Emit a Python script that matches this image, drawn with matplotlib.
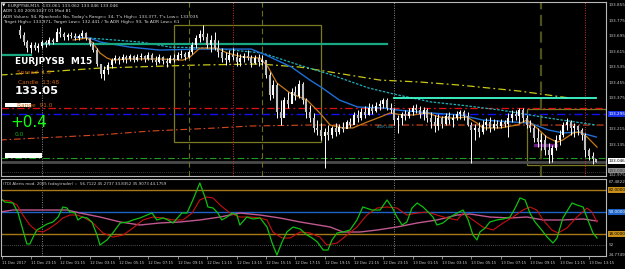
import numpy as np
import matplotlib
matplotlib.use("Agg")
import matplotlib.pyplot as plt
from matplotlib import transforms, font_manager
from matplotlib.patches import Rectangle

# ---------------- data ----------------
first_bar = 5
highs = [133.752, 133.716, 133.675, 133.664, 133.664, 133.659, 133.675, 133.675, 133.690, 133.685,
         133.737, 133.742, 133.716, 133.711, 133.716, 133.711, 133.706, 133.726, 133.716, 133.685,
         133.664, 133.633, 133.551, 133.540, 133.561, 133.582, 133.597, 133.592, 133.602, 133.597,
         133.602, 133.597, 133.602, 133.608, 133.597, 133.613, 133.608, 133.592, 133.602, 133.592,
         133.582, 133.597, 133.602, 133.613, 133.623, 133.613, 133.623, 133.664, 133.700, 133.726,
         133.752, 133.711, 133.700, 133.716, 133.675, 133.633, 133.613, 133.623, 133.633, 133.613,
         133.602, 133.608, 133.623, 133.597, 133.597, 133.602, 133.597, 133.571, 133.509, 133.468,
         133.453, 133.365, 133.381, 133.406, 133.427, 133.437, 133.468, 133.458, 133.375, 133.339,
         133.298, 133.262, 133.246, 133.221, 133.236, 133.231, 133.246, 133.241, 133.251, 133.262,
         133.272, 133.303, 133.313, 133.324, 133.334, 133.350, 133.344, 133.355, 133.365, 133.375,
         133.377, 133.350, 133.324, 133.288, 133.303, 133.313, 133.324, 133.339, 133.344, 133.334,
         133.329, 133.324, 133.303, 133.288, 133.293, 133.282, 133.298, 133.303, 133.293, 133.308,
         133.313, 133.313, 133.303, 133.251, 133.241, 133.251, 133.262, 133.272, 133.277, 133.267,
         133.262, 133.267, 133.262, 133.298, 133.313, 133.313, 133.324, 133.324, 133.288, 133.262,
         133.236, 133.221, 133.195, 133.185, 133.143, 133.133, 133.185, 133.210, 133.251, 133.272,
         133.262, 133.246, 133.236, 133.221, 133.195, 133.117, 133.096, 133.062]
lows = [133.685, 133.649, 133.613, 133.608, 133.623, 133.613, 133.633, 133.638, 133.649, 133.654,
        133.675, 133.690, 133.675, 133.675, 133.685, 133.675, 133.675, 133.685, 133.675, 133.644,
        133.613, 133.540, 133.479, 133.468, 133.499, 133.530, 133.556, 133.551, 133.561, 133.556,
        133.566, 133.561, 133.566, 133.571, 133.561, 133.571, 133.561, 133.546, 133.556, 133.551,
        133.535, 133.556, 133.561, 133.571, 133.582, 133.571, 133.582, 133.602, 133.633, 133.664,
        133.675, 133.633, 133.613, 133.623, 133.587, 133.561, 133.546, 133.561, 133.571, 133.540,
        133.540, 133.561, 133.571, 133.535, 133.551, 133.540, 133.546, 133.479, 133.365, 133.375,
        133.272, 133.236, 133.298, 133.324, 133.350, 133.365, 133.375, 133.344, 133.272, 133.251,
        133.200, 133.185, 133.159, 133.014, 133.159, 133.169, 133.179, 133.190, 133.200, 133.221,
        133.226, 133.241, 133.251, 133.262, 133.272, 133.288, 133.293, 133.303, 133.313, 133.324,
        133.313, 133.298, 133.236, 133.195, 133.236, 133.262, 133.272, 133.288, 133.298, 133.272,
        133.262, 133.251, 133.221, 133.200, 133.210, 133.221, 133.236, 133.241, 133.226, 133.262,
        133.267, 133.262, 133.231, 133.040, 133.159, 133.174, 133.190, 133.210, 133.200, 133.210,
        133.221, 133.221, 133.226, 133.174, 133.251, 133.262, 133.246, 133.251, 133.221, 133.200,
        133.148, 133.122, 133.107, 133.081, 133.040, 133.045, 133.107, 133.133, 133.174, 133.210,
        133.185, 133.174, 133.185, 133.159, 133.071, 133.055, 133.035, 133.046]
opens = [133.726, 133.700, 133.664, 133.633, 133.649, 133.633, 133.644, 133.664, 133.654, 133.675,
         133.664, 133.716, 133.706, 133.690, 133.700, 133.695, 133.685, 133.695, 133.711, 133.685,
         133.654, 133.623, 133.551, 133.499, 133.520, 133.546, 133.571, 133.582, 133.571, 133.587,
         133.577, 133.592, 133.571, 133.587, 133.592, 133.577, 133.597, 133.571, 133.561, 133.587,
         133.566, 133.556, 133.582, 133.571, 133.597, 133.602, 133.587, 133.613, 133.649, 133.685,
         133.706, 133.690, 133.649, 133.675, 133.633, 133.613, 133.582, 133.571, 133.597, 133.587,
         133.561, 133.582, 133.592, 133.582, 133.556, 133.582, 133.561, 133.571, 133.494, 133.391,
         133.442, 133.303, 133.272, 133.365, 133.344, 133.406, 133.386, 133.448, 133.365, 133.303,
         133.272, 133.221, 133.210, 133.179, 133.200, 133.185, 133.221, 133.200, 133.226, 133.215,
         133.251, 133.236, 133.288, 133.272, 133.303, 133.288, 133.324, 133.308, 133.334, 133.344,
         133.365, 133.324, 133.313, 133.262, 133.272, 133.293, 133.282, 133.303, 133.324, 133.313,
         133.293, 133.313, 133.272, 133.251, 133.231, 133.272, 133.241, 133.282, 133.262, 133.272,
         133.293, 133.303, 133.282, 133.236, 133.210, 133.221, 133.200, 133.236, 133.251, 133.221,
         133.241, 133.231, 133.251, 133.241, 133.272, 133.293, 133.282, 133.313, 133.272, 133.236,
         133.221, 133.169, 133.148, 133.159, 133.107, 133.081, 133.117, 133.159, 133.185, 133.236,
         133.251, 133.221, 133.231, 133.210, 133.185, 133.107, 133.076, 133.061]
closes = [133.700, 133.664, 133.633, 133.649, 133.633, 133.644, 133.664, 133.654, 133.675, 133.664,
          133.716, 133.706, 133.690, 133.700, 133.695, 133.685, 133.695, 133.711, 133.685, 133.654,
          133.623, 133.551, 133.499, 133.520, 133.546, 133.571, 133.582, 133.571, 133.587, 133.577,
          133.592, 133.571, 133.587, 133.592, 133.577, 133.597, 133.571, 133.561, 133.587, 133.566,
          133.556, 133.582, 133.571, 133.597, 133.602, 133.587, 133.613, 133.649, 133.685, 133.706,
          133.690, 133.649, 133.675, 133.633, 133.613, 133.582, 133.571, 133.597, 133.587, 133.561,
          133.582, 133.592, 133.582, 133.556, 133.582, 133.561, 133.571, 133.494, 133.391, 133.442,
          133.303, 133.272, 133.365, 133.344, 133.406, 133.386, 133.448, 133.365, 133.303, 133.272,
          133.221, 133.210, 133.179, 133.200, 133.185, 133.221, 133.200, 133.226, 133.215, 133.251,
          133.236, 133.288, 133.272, 133.303, 133.288, 133.324, 133.308, 133.334, 133.344, 133.365,
          133.324, 133.313, 133.262, 133.272, 133.293, 133.282, 133.303, 133.324, 133.313, 133.293,
          133.313, 133.272, 133.251, 133.231, 133.272, 133.241, 133.282, 133.262, 133.272, 133.293,
          133.303, 133.282, 133.236, 133.210, 133.221, 133.200, 133.236, 133.251, 133.221, 133.241,
          133.231, 133.251, 133.241, 133.272, 133.293, 133.282, 133.313, 133.272, 133.236, 133.221,
          133.169, 133.148, 133.159, 133.107, 133.081, 133.117, 133.159, 133.185, 133.236, 133.251,
          133.221, 133.231, 133.210, 133.185, 133.107, 133.076, 133.061, 133.046]

# moving averages (bar index, price)
ma_blue_x = [20, 24, 27, 35, 43, 54, 68, 72, 79, 84, 87, 92, 97, 104, 108, 117, 125, 131, 140, 144, 149, 153, 157, 162]
ma_blue_y = [133.690, 133.685, 133.664, 133.638, 133.623, 133.628, 133.628, 133.597, 133.535, 133.468, 133.432,
             133.365, 133.329, 133.324, 133.313, 133.298, 133.288, 133.262, 133.251, 133.246, 133.210, 133.195,
             133.200, 133.174]
ma_cyan_x = [24, 38, 46, 57, 71, 81, 90, 100, 108, 117, 125, 136, 149, 162]
ma_cyan_y = [133.685, 133.664, 133.638, 133.633, 133.608, 133.546, 133.494, 133.427, 133.391, 133.355, 133.339,
             133.313, 133.272, 133.236]
ma_orange_x = [19.5, 23.3, 24.9, 26.8, 28.7, 30.3, 34.2, 43.1, 49.4, 51.3, 54, 58.7, 61.4, 65.8, 70.4, 72.6, 75,
               78.6, 83.2, 86.7, 89.5, 93, 95.7, 99.5, 103.1, 105.8, 109.3, 112.1, 115.9, 119.4, 123, 126.8, 129.5,
               131.1, 135.7, 140.4, 143.1, 145.8, 148.5, 151.3, 152.9, 155.7, 157.6, 159.5, 162.2]
ma_orange_y = [133.675, 133.685, 133.659, 133.608, 133.582, 133.571, 133.577, 133.577, 133.571, 133.587, 133.633,
               133.633, 133.608, 133.587, 133.582, 133.535, 133.453, 133.401, 133.365, 133.298, 133.236, 133.221,
               133.221, 133.251, 133.277, 133.298, 133.288, 133.288, 133.298, 133.277, 133.272, 133.277, 133.246,
               133.221, 133.221, 133.236, 133.262, 133.221, 133.174, 133.148, 133.159, 133.195, 133.200, 133.174,
               133.122]
yellow_x = [-0.4, 26.8, 54, 70.4, 81.3, 103.1, 114, 124.9, 141.2, 154.9]
yellow_y = [133.494, 133.530, 133.546, 133.551, 133.535, 133.468, 133.458, 133.442, 133.411, 133.375]
pivot_x = [-0.4, 26.8, 40.4, 58.7, 67.7, 84, 165]
pivot_y = [133.159, 133.185, 133.205, 133.221, 133.231, 133.236, 133.236]

level_red = 133.323
level_blue = 133.293
level_green = 133.066
bid = 133.046
level_dot = 132.993
yday_high_left = 133.600
yday_high = 133.652
today_high = 133.377

# TDI indicator (bar index, value)
tdi_green_x = [-0.4, 0.9, 3.1, 4.5, 5.8, 6.9, 7.7, 8.6, 9.6, 11, 12.4, 14, 15.4, 16.7, 17.8, 18.6, 20, 20.8, 21.9,
               23.3, 24.6, 26, 26.8, 28.7, 30.3, 32.3, 34.4, 35.8, 37.7, 39.6, 41, 42.3, 44, 45.3, 46.7, 49.1, 50.5,
               52.1, 54, 55.4, 56.2, 57.6, 58.9, 60, 61.4, 62.8, 64.1, 64.9, 66.8, 68.5, 70.4, 72.3, 73.7, 75, 76.4,
               77.7, 79.4, 81.3, 83.2, 84.6, 86, 87.6, 88.9, 90, 91.4, 93, 94.9, 96.8, 98.4, 100.9, 103.1, 105,
               106.3, 107.7, 109.1, 110.4, 111.8, 113.2, 114.8, 116.2, 117.5, 118.6, 120.2, 122.2, 124.1, 125.7,
               127.1, 128.4, 129.5, 130.3, 131.7, 133, 134.9, 136.6, 138.5, 139.9, 141.2, 142.6, 143.9, 145.3,
               146.7, 148.6, 150.2, 151.3, 152.9, 155.4, 156.7, 158.4, 159.7, 161.1, 162.2]
tdi_green_y = [70.4, 64.5, 63.1, 48.5, 23.8, 3.5, 3.5, 13.6, 23.8, 28.2, 32.5, 35.5, 42.7, 57.3, 55.8, 50, 48.5,
               38.4, 42.7, 41.3, 35.5, 16.5, 2, 9.3, 19.5, 34, 35.5, 38.4, 41.3, 45.6, 48.5, 38.4, 41.3, 38.4, 34,
               48.5, 48.5, 67.5, 92.2, 71.8, 57.3, 55.8, 48.5, 38.4, 42.7, 48.5, 45.6, 31.1, 42.7, 39.8, 41.3, 28.2,
               4.9, -12.5, 6.4, 20.9, 28.2, 25.3, 16.5, 12.2, 6.4, -5.3, -5.3, 9.3, 19.5, 20.9, 23.8, 38.4, 57.3,
               52.9, 52.9, 67.5, 57.3, 42.7, 31.1, 35.5, 55.8, 63.1, 57.3, 50, 42.7, 31.1, 34, 42.7, 48.5, 52.9,
               38.4, 16.5, 9.3, 20.9, 26.7, 35.5, 38.4, 39.8, 42.7, 55.8, 70.4, 67.5, 48.5, 35.5, 26.7, 13.6, 4.9,
               12.2, 41.3, 63.1, 60.2, 57.3, 38.4, 19.5, 12.2]
tdi_red_x = [-0.4, 2.3, 4.2, 5.8, 7.7, 9.6, 11.3, 13.2, 15.1, 16.7, 18.6, 20.5, 22.2, 24.9, 27.6, 30.3, 33.1, 35.8,
             38.5, 41.2, 44, 46.7, 49.4, 51.9, 54, 55.9, 57.6, 59.5, 62.2, 64.9, 67.7, 70.4, 72.3, 73.9, 76.4, 78.6,
             81.3, 84, 86.7, 88.6, 91.4, 94.1, 96.8, 99.5, 102.3, 105, 107.7, 110.4, 113.2, 115.9, 118.6, 121.3,
             124.1, 125.7, 128.4, 131.1, 133.9, 136.6, 139.3, 142, 143.9, 145.8, 147.5, 149.9, 151.6, 154, 156.7,
             159.5, 160.8, 162.2]
tdi_red_y = [67.5, 66, 60.2, 45.6, 31.1, 22.4, 20.9, 26.7, 34, 41.3, 45.6, 45.6, 42.7, 34, 19.5, 13.6, 16.5, 26.7,
             38.4, 42.7, 41.3, 38.4, 38.4, 48.5, 67.5, 71.8, 70.4, 60.2, 48.5, 42.7, 42.7, 41.3, 38.4, 20.9, 12.2,
             12.2, 20.9, 19.5, 13.6, 2, 4.9, 16.5, 28.2, 45.6, 55.8, 57.3, 55.8, 45.6, 48.5, 50, 45.6, 41.3, 38.4,
             48.5, 38.4, 28.2, 23.8, 34, 42.7, 52.9, 57.3, 52.9, 38.4, 23.8, 19.5, 26.7, 42.7, 55.8, 50, 35.5]
tdi_base_x = [-0.4, 3.1, 17.8, 21.4, 26.8, 32.3, 37.7, 43.1, 48.6, 54, 59.5, 64.9, 70.4, 75.8, 81.3, 89.5, 93,
              97.6, 102.3, 107.7, 113.2, 118.6, 124.1, 127.6, 133, 138.5, 143.1, 147.5, 152.9, 158.4, 162.2]
tdi_base_y = [50, 52.9, 52.9, 48.5, 42.7, 35.5, 31.1, 34, 35.5, 38.4, 42.7, 48.5, 45.6, 41.3, 35.5, 28.2, 20.9,
              20.9, 23.8, 28.2, 34, 38.4, 45.6, 47.1, 42.7, 41.3, 42.7, 38.4, 38.4, 39.8, 36.9]
tdi_levels = [82.0, 50.0, 18.0]
tdi_dot = 2.0

time_labels = ["11 Dec 2017", "11 Dec 23:15", "12 Dec 01:15", "12 Dec 03:15", "12 Dec 05:15", "12 Dec 07:15",
               "12 Dec 09:15", "12 Dec 11:15", "12 Dec 13:15", "12 Dec 15:15", "12 Dec 17:15", "12 Dec 19:15",
               "12 Dec 21:15", "12 Dec 23:15", "13 Dec 01:15", "13 Dec 03:15", "13 Dec 05:15", "13 Dec 07:15",
               "13 Dec 09:15", "13 Dec 11:15", "13 Dec 13:15"]
time_label_bars = [0, 8, 16, 24, 32, 40, 48, 56, 64, 72, 80, 88, 96, 104, 112, 120, 128, 136, 144, 152, 160]
price_ticks = [133.855, 133.775, 133.695, 133.615, 133.535, 133.455, 133.375, 133.215, 133.135]
day_sep_bars = [11, 107]
olive_vbars = [51, 71]
olive_vbar_thick = 147
red_vbars = [63, 159]

# ---------------- fonts ----------------
_names = {f.name for f in font_manager.fontManager.ttflist}
if "Liberation Sans Narrow" in _names:
    NARROW, NS = "Liberation Sans Narrow", 1.0
else:
    NARROW, NS = "DejaVu Sans", 0.76

# ---------------- figure ----------------
W, H = 625, 269
fig = plt.figure(figsize=(W / 100, H / 100), dpi=100, facecolor="black")

def frac(x0, y0, x1, y1):
    return [x0 / W, 1 - y1 / H, (x1 - x0) / W, (y1 - y0) / H]

ax = fig.add_axes(frac(1, 2, 606, 176), facecolor="black")
axi = fig.add_axes(frac(1, 179, 606, 256), facecolor="black")
XL = (-0.16, 164.64)
for a in (ax, axi):
    a.set_xlim(*XL)
    for s in a.spines.values():
        s.set_color("#b8b8b8")
        s.set_linewidth(0.8)
    a.tick_params(left=False, right=False, labelleft=False, labelright=False)
ax.set_ylim(132.973, 133.871)
axi.set_ylim(-14, 98)
ax.set_xticks([])

ddot = (0, (6, 2.5, 1.5, 2.5))
idx = np.arange(first_bar, first_bar + len(closes))
o = np.array(opens); c = np.array(closes); hi = np.array(highs); lo = np.array(lows)

# horizontal levels / lines
ax.axhline(level_green, color="#1e9e1e", lw=0.8, ls=ddot)
ax.axhline(bid, color="#4a4a4a", lw=2.0)
ax.axhline(level_dot, color="#505050", lw=0.6, ls=(0, (1, 1.5)))
ax.plot(pivot_x, pivot_y, color="#d8481e", lw=0.8, ls=ddot)
ax.axhline(level_red, color="#e01010", lw=0.9, ls=ddot)
ax.axhline(level_blue, color="#1010f0", lw=1.0, ls=ddot)
ax.plot(yellow_x, yellow_y, color="#c8c818", lw=0.9, ls=ddot)

# vertical lines
for b in day_sep_bars:
    ax.axvline(b, color="#8a8a8a", lw=0.7, ls=(0, (1, 1.5)))
    axi.axvline(b, color="#8a8a8a", lw=0.7, ls=(0, (1, 1.5)))
for b in olive_vbars:
    ax.axvline(b, color="#6e6e18", lw=0.8, ls=(0, (5, 3)))
ax.axvline(olive_vbar_thick, color="#50501a", lw=1.6, ls=(0, (5, 2.5)))
for b in red_vbars:
    ax.axvline(b, color="#d03030", lw=0.7, ls=(0, (1, 1.5)))

# boxes
ax.add_patch(Rectangle((47, 133.150), 87 - 47, 133.752 - 133.150, fill=False, ec="#7a7a22", lw=0.9))
ax.add_patch(Rectangle((143, 133.030), 164.64 - 143, 133.318 - 133.030, fill=False, ec="#7a7a22", lw=0.9))

# moving averages
ax.plot(ma_cyan_x, ma_cyan_y, color="#1fb0b8", lw=0.9, ls=(0, (2, 1.2)))
ax.plot(ma_blue_x, ma_blue_y, color="#1e6fd8", lw=1.0)
ax.plot(ma_orange_x, ma_orange_y, color="#c87818", lw=0.9)

# high lines
ax.plot([-0.4, 8], [yday_high_left, yday_high_left], color="#18a882", lw=1.6)
ax.plot([11.3, 105], [yday_high, yday_high], color="#18a882", lw=1.6)
ax.plot([107, 162], [today_high, today_high], color="#40ffd0", lw=1.3)
ax.plot([145.3, 151], [133.133, 133.133], color="#6a2080", lw=2.4)

# bars
up = c >= o
ax.vlines(idx, lo, hi, color="white", lw=0.7)
ax.vlines(idx[up], o[up], c[up], color="white", lw=1.5)
ax.vlines(idx[~up], c[~up], o[~up], color="#c0c0c0", lw=1.5)

ax.text(104.5, 133.226, "ADR Low", color="#2a98b0", fontsize=3.4 * NS, family=NARROW, va="center", ha="center")

# right price labels
RF = dict(family=NARROW, fontsize=3.9 * NS, va="center", ha="left", clip_on=False)
bt = transforms.blended_transform_factory(ax.transAxes, ax.transData)
for p in price_ticks:
    ax.text(1.004, p, f"{p:.3f}", transform=bt, color="#c8c8c8", **RF)
ax.text(1.004, level_blue, "133.295", transform=bt, color="white",
        bbox=dict(fc="#1830e8", ec="none", pad=0.6), **RF)
ax.text(1.004, bid + 0.004, "133.046", transform=bt, color="black",
        bbox=dict(fc="white", ec="none", pad=0.6), **RF)
ax.text(1.004, 133.000, "133.000", transform=bt, color="#303030",
        bbox=dict(fc="#909090", ec="none", pad=0.4), **RF)
ax.text(1.004, 132.978, "132.975", transform=bt, color="#c8c8c8", **RF)

# top-left info text
info = ["EURJPYSB,M15  133.061 133.062 133.046 133.046",
        "ADR 1.00 20051027 01 Mod 81",
        "ADR Values: 94, Reached= No, Today's Range= 34, T's High= 133.377, T's Low= 133.035",
        "Target High= 133.971, Target Low= 132.441 / To ADR High= 93, To ADR Low= 61"]
for k, s in enumerate(info):
    fig.text((8 if k == 0 else 3) / W, 1 - (5.5 + 5.6 * k) / H, s, color="#d8d8d8", fontsize=4.2 * NS,
             family=NARROW, va="center", ha="left")
fig.text(1.5 / W, 1 - 5.5 / H, "\u25bc", color="white", fontsize=3.2, va="center", ha="left")

def ftext(x, y, s, **kw):
    fig.text(x / W, 1 - y / H, s, va="center", ha="left", **kw)

ftext(15, 62, "EURJPYSB  M15", color="white", fontsize=6.4, fontweight="bold")
ftext(17, 72.5, "Spread  1.3", color="#c86010", fontsize=4.2)
ftext(18, 82, "Candle  13:48", color="#c86010", fontsize=4.2)
ftext(15, 91.5, "133.05", color="white", fontsize=8.2, fontweight="bold")
ftext(17, 106, "Range  91.0", color="#c86010", fontsize=4.2)
fig.patches.append(Rectangle((5 / W, 1 - 107 / H), 26 / W, 4 / H, transform=fig.transFigure, fc="white", ec="none"))
ftext(10, 122.5, "+0.4", color="#10ff10", fontsize=11)
ftext(15, 135, "0.0", color="#10b010", fontsize=4.2)
fig.patches.append(Rectangle((5 / W, 1 - 158 / H), 37 / W, 5 / H, transform=fig.transFigure, fc="white", ec="none"))

# ---------------- indicator ----------------
axi.axhline(tdi_levels[0], color="#a87818", lw=1.0)
axi.axhline(tdi_levels[1], color="#1e64c8", lw=1.0)
axi.axhline(tdi_levels[2], color="#a87818", lw=1.0)
axi.axhline(tdi_dot, color="#6a6a6a", lw=0.6, ls=(0, (1, 1.5)))
axi.plot(tdi_base_x, tdi_base_y, color="#c05890", lw=1.0)
axi.plot(tdi_red_x, tdi_red_y, color="#c81010", lw=0.8)
axi.plot(tdi_green_x, tdi_green_y, color="#10c010", lw=0.9)
axi.text(0.004, 0.93, "(TDI Alerts mod. 2005 fxdaytrader) ::  56.7122 45.2737 33.8352 35.9073 44.1759",
         transform=axi.transAxes, color="#d0d0d0", fontsize=3.8 * NS, family=NARROW, va="center", ha="left")

bti = transforms.blended_transform_factory(axi.transAxes, axi.transData)
axi.text(1.004, tdi_levels[0], "82.0000", transform=bti, color="black",
         bbox=dict(fc="#c89018", ec="none", pad=0.5), **RF)
axi.text(1.004, tdi_levels[1], "50.0000", transform=bti, color="white",
         bbox=dict(fc="#1e64c8", ec="none", pad=0.5), **RF)
axi.text(1.004, tdi_levels[2], "18.0000", transform=bti, color="black",
         bbox=dict(fc="#c89018", ec="none", pad=0.5), **RF)
axi.text(1.004, 94, "67.4822", transform=bti, color="#c8c8c8", **RF)
axi.text(1.004, tdi_dot, "52", transform=bti, color="#c8c8c8", **RF)
axi.text(1.004, -12, "24.7749", transform=bti, color="#c8c8c8", **RF)

axi.set_xticks(time_label_bars)
axi.set_xticklabels(time_labels, ha="left", fontsize=3.5 * NS, color="#c8c8c8", family=NARROW)
axi.tick_params(axis="x", length=2, width=0.5, color="#b8b8b8", pad=1.5)

fig.savefig("out.png", dpi=100, facecolor="black")
